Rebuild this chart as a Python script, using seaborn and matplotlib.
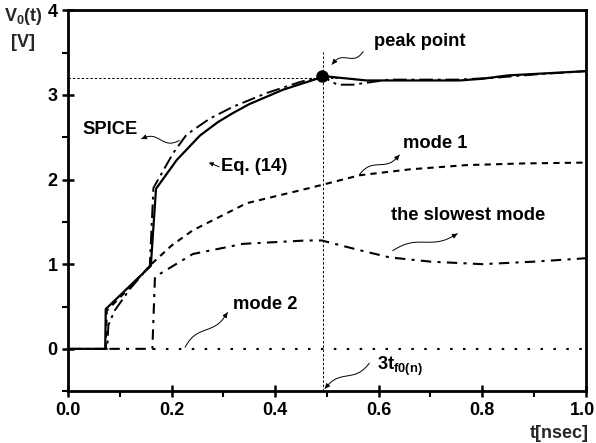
import numpy as np
import pandas as pd
import matplotlib
matplotlib.use("Agg")
import matplotlib.pyplot as plt
import matplotlib.transforms as mtransforms
import seaborn as sns

# Output voltage of the line, time in nsec
t_eq = [0.0, 0.072, 0.073, 0.160, 0.170, 0.21, 0.255, 0.29, 0.32, 0.35, 0.415, 0.496,
        0.576, 0.68, 0.756, 0.80, 0.85, 1.0]
v_eq = [0.0, 0.0, 0.47, 0.98, 1.89, 2.23, 2.52, 2.68, 2.79, 2.89, 3.06, 3.22,
        3.17, 3.17, 3.17, 3.19, 3.23, 3.28]

t_spice = [0.0, 0.076, 0.078, 0.09, 0.12, 0.158, 0.165, 0.177, 0.203, 0.229, 0.255, 0.274,
           0.319, 0.383, 0.447, 0.49, 0.52, 0.55, 0.62, 0.75, 0.82, 0.9, 1.0]
v_spice = [0.0, 0.0, 0.28, 0.45, 0.71, 0.98, 1.90, 2.03, 2.31, 2.53, 2.64, 2.72,
           2.86, 3.02, 3.15, 3.22, 3.12, 3.12, 3.18, 3.18, 3.20, 3.24, 3.28]

t_mode1 = [0.073, 0.075, 0.12, 0.161, 0.2, 0.241, 0.345, 0.467, 0.563, 0.66, 0.769, 0.88, 1.0]
v_mode1 = [0.0, 0.45, 0.73, 1.0, 1.22, 1.40, 1.72, 1.90, 2.05, 2.12, 2.17, 2.19, 2.20]

t_slow = [0.08, 0.163, 0.168, 0.241, 0.338, 0.46, 0.49, 0.56, 0.621, 0.7, 0.8, 0.9, 1.0]
v_slow = [0.0, 0.0, 0.85, 1.12, 1.24, 1.28, 1.28, 1.17, 1.08, 1.03, 1.0, 1.03, 1.07]

t_mode2 = [0.165, 1.0]
v_mode2 = [0.0, 0.0]

t_peak = 0.49
v_peak = 3.22

x_ticks = [0.0, 0.2, 0.4, 0.6, 0.8, 1.0]
y_ticks = [0, 1, 2, 3, 4]

sns.set_theme(style="ticks")
plt.rcParams["font.family"] = ["Liberation Sans", "DejaVu Sans"]
plt.rcParams["font.weight"] = "bold"
plt.rcParams["mathtext.fontset"] = "custom"
plt.rcParams["mathtext.rm"] = "Liberation Sans:bold"
plt.rcParams["mathtext.it"] = "Liberation Sans:bold"
plt.rcParams["mathtext.bf"] = "Liberation Sans:bold"

fig = plt.figure(figsize=(5.96, 4.43), dpi=100)
ax = fig.add_axes([0.114, 0.117, 0.869, 0.860])
ax.set_xlim(0.0, 1.0)
ax.set_ylim(-0.5, 4.0)

series = [
    (t_eq, v_eq, "-", 1.6),
    (t_spice, v_spice, (0, (7, 2.5, 1.5, 2.5)), 1.4),
    (t_mode1, v_mode1, (0, (3, 2.5)), 1.5),
    (t_slow, v_slow, (0, (5, 3, 1.5, 3)), 1.5),
    (t_mode2, v_mode2, (0, (1.2, 5)), 1.5),
]
for t, v, ls, lw in series:
    df = pd.DataFrame({"t": t, "v": v})
    sns.lineplot(data=df, x="t", y="v", ax=ax, color="black", linestyle=ls,
                 linewidth=lw, estimator=None, sort=False, legend=False)

# guide lines through the peak
ax.plot([0.0, 0.557], [3.2, 3.2], color="black", lw=0.7, ls=(0, (2.5, 2)))
ax.plot([0.493, 0.493], [-0.5, 3.51], color="black", lw=0.7, ls=(0, (2.5, 2)))
ax.plot([t_peak], [v_peak], marker="o", color="black", ms=9, mew=0)

ax.set_xticks(x_ticks)
ax.set_xticklabels([f"{x:.1f}" for x in x_ticks])
ax.set_yticks(y_ticks)
ax.set_yticklabels([str(y) for y in y_ticks])
ax.set_xticks(np.arange(0.1, 1.0, 0.2), minor=True)
ax.set_yticks(np.arange(-0.5, 4.0, 1.0), minor=True)
ax.tick_params(which="major", direction="inout", length=9, width=1.8,
               labelsize=13, colors="black", pad=3)
ax.tick_params(which="minor", direction="out", length=4, width=1.5, colors="black")
for lab in ax.get_xticklabels() + ax.get_yticklabels():
    lab.set_fontweight("bold")
# keep the last x label inside the figure edge
last = ax.get_xticklabels()[-1]
last.set_transform(last.get_transform() +
                   mtransforms.ScaledTranslation(-3 / 100, 0, fig.dpi_scale_trans))
for sp in ax.spines.values():
    sp.set_linewidth(2.0)
    sp.set_color("black")
    sp.set_visible(True)
ax.set_xlabel("")
ax.set_ylabel("")

fig.text(0.039, 0.962, r"V$_0$(t)", ha="center", va="center", fontsize=13, fontweight="bold")
fig.text(0.039, 0.903, "[V]", ha="center", va="center", fontsize=13, fontweight="bold")
fig.text(0.987, 0.022, "t[nsec]", ha="right", va="center", fontsize=13, fontweight="bold")


def squiggle(tail, head, amp=4.0, waves=1.0):
    """Thin wavy arrow from tail to head, both in data coordinates."""
    fig.canvas.draw()
    p0 = ax.transData.transform(tail)
    p1 = ax.transData.transform(head)
    d = p1 - p0
    n = np.array([-d[1], d[0]]) / np.hypot(*d)
    s = np.linspace(0, 1, 60)
    pts = p0[None, :] + s[:, None] * d[None, :] + (amp * np.sin(2 * np.pi * waves * s))[:, None] * n[None, :]
    dpts = ax.transData.inverted().transform(pts)
    ax.plot(dpts[:, 0], dpts[:, 1], color="black", lw=0.7)
    ax.annotate("", xy=dpts[-1], xytext=dpts[-6],
                arrowprops=dict(arrowstyle="-|>", color="black", lw=0.7,
                                mutation_scale=7, shrinkA=0, shrinkB=0))


txt = dict(fontsize=13.2, fontweight="bold", color="black")
ax.text(0.68, 3.63, "peak point", ha="center", va="center", **txt)
squiggle((0.57, 3.51), (0.51, 3.36), amp=3)

ax.text(0.081, 2.59, "SPICE", ha="center", va="center", **txt)
squiggle((0.215, 2.46), (0.142, 2.48), amp=3)

ax.text(0.36, 2.15, "Eq. (14)", ha="center", va="center", **txt)
ax.annotate("", xy=(0.272, 2.20), xytext=(0.292, 2.15),
            arrowprops=dict(arrowstyle="-|>", color="black", lw=0.7,
                            mutation_scale=6, shrinkA=0, shrinkB=0))

ax.text(0.71, 2.43, "mode 1", ha="center", va="center", **txt)
squiggle((0.563, 2.06), (0.64, 2.29), amp=3)

ax.text(0.773, 1.58, "the slowest mode", ha="center", va="center", **txt)
squiggle((0.627, 1.16), (0.752, 1.36), amp=3)

ax.text(0.38, 0.52, "mode 2", ha="center", va="center", **txt)
squiggle((0.226, 0.02), (0.308, 0.43), amp=3)

ax.text(0.64, -0.21, r"3t$_{\mathregular{f0(n)}}$", ha="center", va="center", **txt)
squiggle((0.582, -0.17), (0.496, -0.47), amp=3)

fig.savefig("out.png", dpi=100)
